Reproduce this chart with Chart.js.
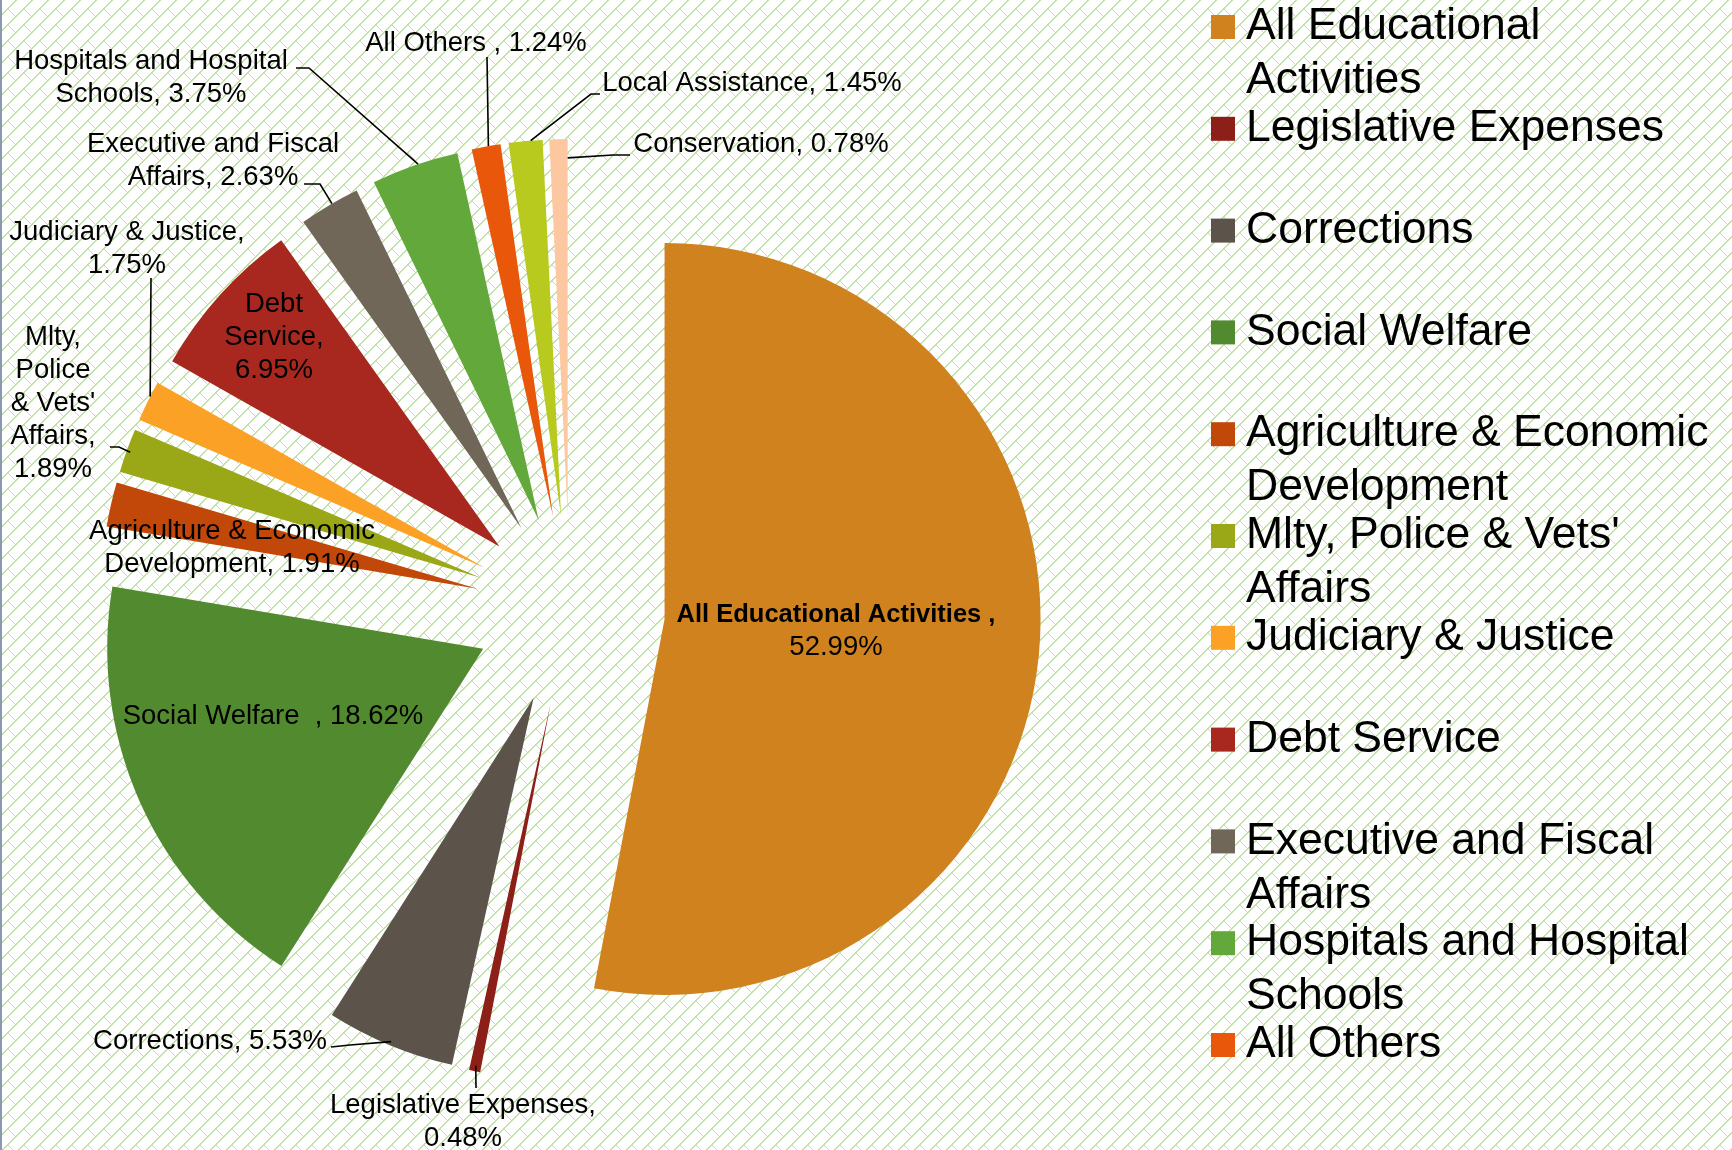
<!DOCTYPE html>
<html>
<head>
<meta charset="utf-8">
<title>Budget shares</title>
<script src="https://cdn.jsdelivr.net/npm/chart.js@4.4.1/dist/chart.umd.min.js"></script>
<style>
  html, body { margin: 0; padding: 0; background: #fff; }
  #wrap { width: 1732px; height: 1150px; }
</style>
</head>
<body>
<div id="wrap"><canvas id="myChart" width="1732" height="1150"></canvas></div>
<script>
// categories as they come out of the sheet (some keep a trailing space)
var categories = ['All Educational Activities ', 'Legislative Expenses', 'Corrections', 'Social Welfare  ',
    'Agriculture & Economic Development', "Mlty, Police & Vets' Affairs", 'Judiciary & Justice',
    'Debt Service', 'Executive and Fiscal Affairs', 'Hospitals and Hospital Schools', 'All Others ',
    'Local Assistance', 'Conservation'];
var shares = [52.99, 0.48, 5.53, 18.62, 1.91, 1.89, 1.75, 6.95, 2.63, 3.75, 1.24, 1.45, 0.78];
var sliceColors = ['#D0821E', '#8C1F17', '#5C544A', '#528A30', '#C2480A', '#9AA717', '#FBA126',
    '#A8281F', '#706759', '#63A83A', '#E8570A', '#B7CA1D', '#FDC8A0'];

// where each data label sits, relative to the pie centre (dx, dy = middle of the text block)
// leader: bend points (relative to centre), then it ends on the slice at fraction "at", radius "r"
var labelSpots = [
    { dx: 266, dy: 21, wrap: 340, bold: true },
    { dx: -107, dy: 512, wrap: 300, leader: [[-94, 478]], at: 0.5, r: 0.985 },
    { dx: -360, dy: 431, wrap: 400, leader: [[-239, 437], [-220, 435]], at: 0.5, r: 0.99 },
    { dx: -297, dy: 106, wrap: 420 },
    { dx: -338, dy: -62, wrap: 340 },
    { dx: -517, dy: -207, wrap: 96, leader: [[-460, -163], [-451, -163]], at: 0.49, r: 0.99 },
    { dx: -443, dy: -361, wrap: 265, leader: [[-419, -332]], at: 0.62, r: 1 },
    { dx: -296, dy: -273, wrap: 112 },
    { dx: -357, dy: -449, wrap: 300, leader: [[-266, -426], [-250, -426]], at: 0.55, r: 1 },
    { dx: -419, dy: -532, wrap: 300, leader: [[-274, -542], [-261, -542]], at: 0.54, r: 1 },
    { dx: -94, dy: -567, wrap: 400, leader: [[-83, -553]], at: 0.58, r: 1 },
    { dx: 182, dy: -527, wrap: 400, leader: [[30, -516], [21, -516]], at: 0.65, r: 1 },
    { dx: 191, dy: -466, wrap: 400, leader: [[60, -455], [43, -455]], at: 1, r: 0.95 }
];

var FONT = "'Liberation Sans', Arial, sans-serif";

function wrapText(ctx, text, maxW) {
    var words = text.split(' ');
    var lines = [];
    var cur = '';
    words.forEach(function (w) {
        var t = cur === '' ? w : cur + ' ' + w;
        if (cur !== '' && ctx.measureText(t).width > maxW) {
            lines.push(cur);
            cur = w;
        } else {
            cur = t;
        }
    });
    lines.push(cur);
    return lines;
}

// diagonal brick fill, like the sheet's plot area pattern
function makeHatch() {
    var n = 16;
    var c = document.createElement('canvas');
    c.width = n;
    c.height = n;
    var g = c.getContext('2d');
    g.fillStyle = '#ffffff';
    g.fillRect(0, 0, n, n);
    g.fillStyle = '#bfe1a6';
    for (var i = 0; i < n; i++) {
        g.fillRect(i, n - 1 - i, 2, 1);
        if (i === n - 1) g.fillRect(0, 0, 1, 1);
    }
    for (var k = 0; k <= n / 2; k++) {
        var x = (n / 2 - 1 + k) % n;
        var y = (n / 2 + k) % n;
        g.fillRect(x, y, 1, 1);
    }
    return c;
}

var background = {
    id: 'background',
    beforeDraw: function (chart) {
        var ctx = chart.ctx;
        ctx.save();
        ctx.fillStyle = ctx.createPattern(makeHatch(), 'repeat');
        ctx.fillRect(0, 0, chart.width, chart.height);
        ctx.fillStyle = '#8a9ab0';
        ctx.fillRect(0, 0, 2, chart.height);
        ctx.restore();
    }
};

// push every slice out along its bisector
var explode = {
    id: 'explode',
    afterDatasetUpdate: function (chart, args, opts) {
        args.meta.data.forEach(function (arc) {
            var mid = (arc.startAngle + arc.endAngle) / 2;
            arc.x += Math.cos(mid) * opts.distance;
            arc.y += Math.sin(mid) * opts.distance;
        });
    }
};

var sliceLabels = {
    id: 'sliceLabels',
    afterDatasetsDraw: function (chart) {
        var ctx = chart.ctx;
        var area = chart.chartArea;
        var cx = (area.left + area.right) / 2;
        var cy = (area.top + area.bottom) / 2;
        var arcs = chart.getDatasetMeta(0).data;
        ctx.save();
        ctx.fillStyle = '#000';
        ctx.strokeStyle = '#000';
        ctx.lineWidth = 1.6;
        ctx.textAlign = 'center';
        ctx.textBaseline = 'middle';
        labelSpots.forEach(function (s, i) {
            var text = categories[i] + ', ' + shares[i].toFixed(2) + '%';
            ctx.font = (s.bold ? 'bold 25.5px ' : '27.5px ') + FONT;
            var lines = wrapText(ctx, text, s.wrap);
            var lh = 33;
            var y0 = cy + s.dy - (lines.length - 1) * lh / 2;
            lines.forEach(function (ln, k) {
                ctx.font = (s.bold && k === 0 ? 'bold 25.5px ' : '27.5px ') + FONT;
                ctx.fillText(ln, cx + s.dx, y0 + k * lh);
            });
            if (s.leader) {
                var arc = arcs[i];
                var a = arc.startAngle + s.at * (arc.endAngle - arc.startAngle);
                ctx.beginPath();
                s.leader.forEach(function (p, k) {
                    if (k === 0) ctx.moveTo(cx + p[0], cy + p[1]);
                    else ctx.lineTo(cx + p[0], cy + p[1]);
                });
                ctx.lineTo(arc.x + Math.cos(a) * arc.outerRadius * s.r, arc.y + Math.sin(a) * arc.outerRadius * s.r);
                ctx.stroke();
            }
        });
        ctx.restore();
    }
};

var sideLegend = {
    id: 'sideLegend',
    afterDraw: function (chart, args, o) {
        var ctx = chart.ctx;
        var ds = chart.data.datasets[0];
        ctx.save();
        ctx.font = o.fontSize + 'px ' + FONT;
        ctx.textBaseline = 'middle';
        ctx.textAlign = 'left';
        chart.data.labels.forEach(function (lab, i) {
            var y = o.top + i * o.pitch;
            if (y + o.fontSize / 2 > chart.height) return;
            ctx.fillStyle = ds.backgroundColor[i];
            ctx.fillRect(o.boxX, y - o.box / 2, o.box, o.box);
            ctx.fillStyle = '#000';
            wrapText(ctx, lab.trim(), o.maxWidth).forEach(function (ln, k) {
                ctx.fillText(ln, o.textX, y + k * o.lineHeight);
            });
        });
        ctx.restore();
    }
};

var ctx = document.getElementById('myChart').getContext('2d');
var myChart = new Chart(ctx, {
    type: 'pie',
    data: {
        labels: categories,
        datasets: [{
            data: shares,
            backgroundColor: sliceColors,
            borderWidth: 0
        }]
    },
    options: {
        responsive: false,
        animation: false,
        events: [],
        radius: 376,
        layout: { padding: { left: 0, right: 592, top: 70, bottom: 0 } },
        plugins: {
            legend: { display: false },
            tooltip: { enabled: false },
            explode: { distance: 95 },
            sideLegend: {
                boxX: 1211, box: 24, textX: 1246, top: 27, pitch: 101.8,
                fontSize: 44.5, lineHeight: 54, maxWidth: 470
            }
        }
    },
    plugins: [background, explode, sliceLabels, sideLegend]
});
</script>
</body>
</html>
